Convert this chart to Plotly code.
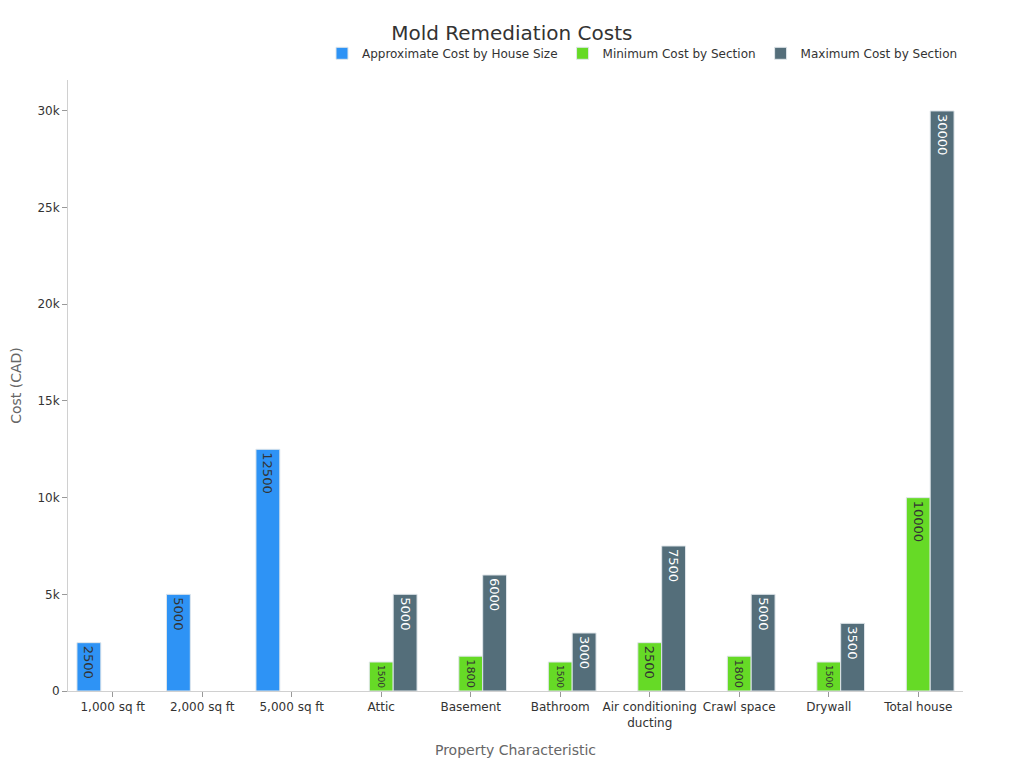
import plotly.graph_objects as go

# categories along the x axis
categories = ["1,000 sq ft", "2,000 sq ft", "5,000 sq ft", "Attic", "Basement",
              "Bathroom", "Air conditioning<br>ducting", "Crawl space", "Drywall", "Total house"]

# cost by house size (first three categories only)
house_size_cost = [2500, 5000, 12500, None, None, None, None, None, None, None]
# min / max cost per section
min_section_cost = [None, None, None, 1500, 1800, 1500, 2500, 1800, 1500, 10000]
max_section_cost = [None, None, None, 5000, 6000, 3000, 7500, 5000, 3500, 30000]

font_family = "DejaVu Sans"

fig = go.Figure()

fig.add_trace(go.Bar(
    name="Approximate Cost by House Size",
    x=categories, y=house_size_cost,
    marker=dict(color="#2E93F5", line=dict(color="#E0E6EA", width=1)),
    text=house_size_cost, textposition="inside", textangle=90,
    insidetextanchor="end",
    textfont=dict(color="#333333", size=13),
))
fig.add_trace(go.Bar(
    name="Minimum Cost by Section",
    x=categories, y=min_section_cost,
    marker=dict(color="#66DA26", line=dict(color="#E0E6EA", width=1)),
    text=min_section_cost, textposition="inside", textangle=90,
    insidetextanchor="end",
    textfont=dict(color="#333333", size=13),
))
fig.add_trace(go.Bar(
    name="Maximum Cost by Section",
    x=categories, y=max_section_cost,
    marker=dict(color="#546E7A", line=dict(color="#E0E6EA", width=1)),
    text=max_section_cost, textposition="inside", textangle=90,
    insidetextanchor="end",
    textfont=dict(color="#FFFFFF", size=13),
))

# page draws the figure offset by the body margin, so margins are shifted to compensate
fig.update_layout(
    width=1024, height=768,
    barmode="group", bargap=0.2, bargroupgap=0,
    font=dict(family=font_family, color="#333333", size=12),
    title=dict(text="Mold Remediation Costs", x=0.492, xanchor="center",
               yref="container", y=0.968, yanchor="middle",
               font=dict(size=20, color="#333333")),
    legend=dict(orientation="h", x=1, xanchor="right",
                yref="container", y=0.941, yanchor="middle",
                font=dict(size=12, color="#333333")),
    margin=dict(l=60, r=69, t=72, b=85, autoexpand=False),
    plot_bgcolor="white", paper_bgcolor="white",
)
fig.update_xaxes(
    title=dict(text="Property Characteristic", font=dict(size=14, color="#666666"), standoff=16),
    showline=True, linecolor="#D0D0D0", linewidth=1,
    ticks="outside", tickcolor="#999999", ticklen=5,
    showgrid=False, tickfont=dict(size=12), automargin=False,
)
fig.update_yaxes(
    title=dict(text="Cost (CAD)", font=dict(size=14, color="#666666"), standoff=17),
    range=[0, 31600],
    showline=True, linecolor="#D0D0D0", linewidth=1,
    ticks="outside", tickcolor="#999999", ticklen=5,
    showgrid=False, zeroline=False, tickfont=dict(size=12),
    dtick=5000, tickformat="~s", automargin=False,
)

fig.write_html("out.html")
